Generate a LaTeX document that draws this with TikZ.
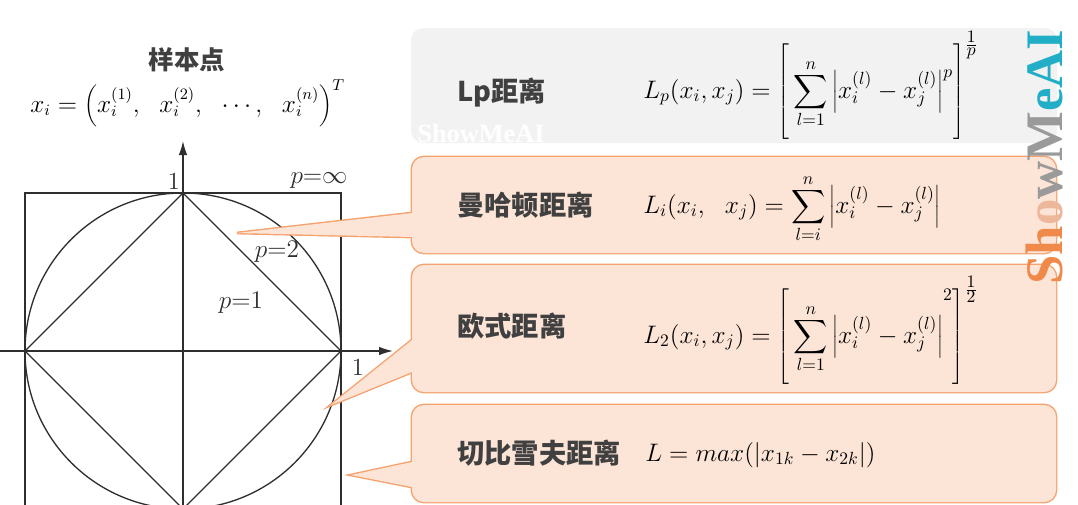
\documentclass[tikz,border=0pt]{standalone}
\usepackage{fontspec}
\usepackage{xcolor}
\usetikzlibrary{arrows.meta}

\newfontfamily\cjk{Noto Sans CJK SC}
\newfontfamily\wmfont{Liberation Serif}

\definecolor{boxgray}{HTML}{F2F2F2}
\definecolor{peach}{HTML}{FCE4D6}
\definecolor{peachline}{HTML}{F4A36F}
\definecolor{inkgray}{HTML}{404040}
\definecolor{figline}{HTML}{2E2E2E}
\definecolor{wmorange}{HTML}{F08A4B}
\definecolor{wmsalmon}{HTML}{EDB79C}
\definecolor{wmgray}{HTML}{9A9A9A}
\definecolor{wmteal}{HTML}{22AEC6}

% a taller summation sign, limits kept above and below
\newcommand{\tallsum}{\mathop{\vcenter{\hbox{\scalebox{1.35}{$\displaystyle\sum$}}}}\limits}
\newcommand{\tallstrut}{\rule[-1.45em]{0pt}{3.7em}}

\begin{document}
\begin{tikzpicture}[
  x=0.02cm, y=-0.02cm,
  fig/.style={draw=figline, line width=0.75pt},
  axis/.style={fig, -{Latex[length=0.28cm, width=0.17cm]}},
  figlabel/.style={text=figline, font=\fontsize{14}{16}\selectfont, inner sep=0pt},
  heading/.style={font=\cjk\bfseries\fontsize{15.5}{18}\selectfont, text=inkgray, anchor=west, inner sep=0pt},
  formula/.style={font=\fontsize{14}{16}\selectfont, anchor=base west, inner sep=0pt},
  rim/.style={draw=peachline, line width=1.6pt},
  face/.style={fill=peach},
  round/.style={rounded corners=0.24cm}
]
\useasboundingbox (0,0) rectangle (1078,504);
\clip (0,0) rectangle (1078,504);

% unit balls
\coordinate (o) at (183,351);
\coordinate (xfrom) at (0,351);
\coordinate (xto) at (393,351);
\coordinate (yfrom) at (183,509);
\coordinate (yto) at (183,141);
\draw[fig] (25,193) rectangle (341,509);
\draw[fig] (o) circle[radius=158];
\draw[fig] (183,193) -- (341,351) -- (183,509) -- (25,351) -- cycle;
\draw[axis] (xfrom) -- (xto);
\draw[axis] (yfrom) -- (yto);

\node[figlabel] (oney) at (174,181) {1};
\node[figlabel] (onex) at (358,367) {1};
\node[figlabel] (pinf) at (319,181) {$p{=}\infty$};
\node[figlabel] (ptwo) at (277,252) {$p{=}2$};
\node[figlabel] (pone) at (241,303) {$p{=}1$};

\node[font=\cjk\bfseries\fontsize{14.5}{17}\selectfont, text=inkgray] (sample) at (187,60) {样本点};
\node[formula, font=\fontsize{13.5}{16}\selectfont] (xvec) at (30,112)
  {$x_i=\left(x_i^{(1)},\ \ x_i^{(2)},\ \ \cdots,\ \ x_i^{(n)}\right)^T$};

% boxes
\fill[boxgray, round] (411,28) rectangle (1057,143);

\draw[rim, round] (412,157) rectangle (1056,253);
\draw[rim] (237,233) -- (412,213) -- (425,213) -- (425,237) -- (412,237) -- cycle;
\draw[rim, round] (412,265) rectangle (1056,392);
\draw[rim] (331,405) -- (412,340) -- (425,340) -- (425,372) -- (412,372) -- cycle;
\draw[rim, round] (412,405) rectangle (1056,502);
\draw[rim] (351,475) -- (412,462) -- (425,462) -- (425,487) -- (412,487) -- cycle;

\fill[face, round] (412,157) rectangle (1056,253);
\fill[face] (237,233) -- (412,213) -- (425,213) -- (425,237) -- (412,237) -- cycle;
\fill[face, round] (412,265) rectangle (1056,392);
\fill[face] (331,405) -- (412,340) -- (425,340) -- (425,372) -- (412,372) -- cycle;
\fill[face, round] (412,405) rectangle (1056,502);
\fill[face] (351,475) -- (412,462) -- (425,462) -- (425,487) -- (412,487) -- cycle;

\node[heading] (lpname) at (457,93) {Lp距离};
\node[heading] (manname) at (457,205) {曼哈顿距离};
\node[heading] (eucname) at (457,326) {欧式距离};
\node[heading] (chebname) at (457,453) {切比雪夫距离};

\node[formula] (lpform) at (643,98)
  {$\displaystyle L_p(x_i,x_j)=\left[\tallstrut\tallsum_{l=1}^{n}\left|x_i^{(l)}-x_j^{(l)}\right|^p\right]^{\frac{\scriptstyle 1}{\scriptstyle p}}$};
\node[formula] (manform) at (643,213)
  {$\displaystyle L_i(x_i,\ \ x_j)=\tallsum_{l=i}^{n}\left|x_i^{(l)}-x_j^{(l)}\right|$};
\node[formula] (eucform) at (643,343)
  {$\displaystyle L_2(x_i,x_j)=\left[\tallstrut\tallsum_{l=1}^{n}\left|x_i^{(l)}-x_j^{(l)}\right|^{\raisebox{0.9em}{$\scriptstyle 2$}}\right]^{\frac{\scriptstyle 1}{\scriptstyle 2}}$};
\node[formula] (chebform) at (645,461)
  {$L=max(|x_{1k}-x_{2k}|)$};

% watermarks
\node[anchor=west, inner sep=0pt, text=white, font=\wmfont\bfseries\fontsize{15}{17}\selectfont] (wmflat) at (417,133) {ShowMeAI};
\node[rotate=90, inner sep=0pt, font=\wmfont\bfseries\fontsize{30}{32}\selectfont] (wmside) at (1044,157)
  {\textcolor{wmorange}{Sh}\textcolor{wmsalmon}{o}\textcolor{wmgray}{wM}\textcolor{wmteal}{eAI}};

\end{tikzpicture}
\end{document}
